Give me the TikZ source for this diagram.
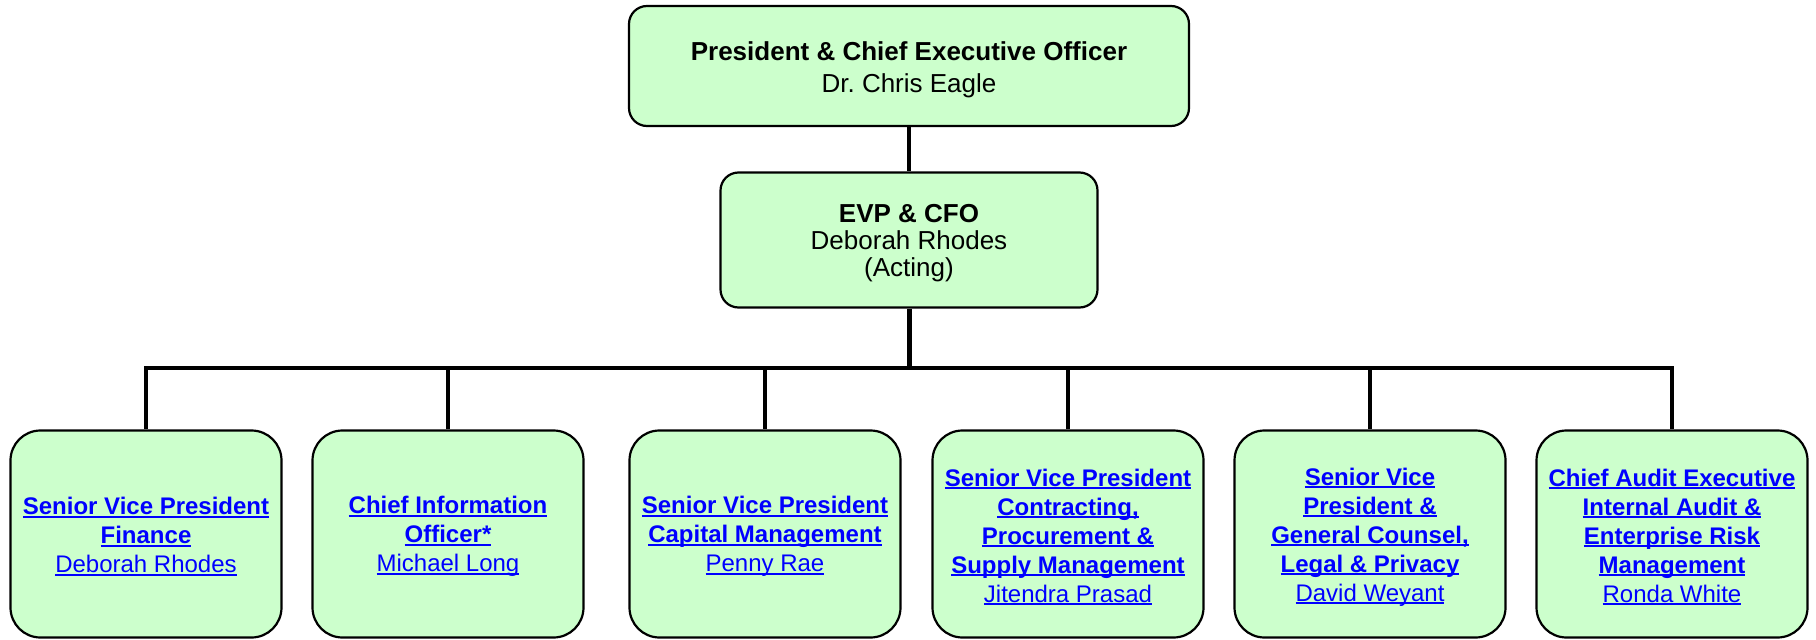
\documentclass[tikz,border=0pt]{standalone}
\usepackage{fontspec}
\setmainfont{Liberation Sans}
\definecolor{boxgreen}{HTML}{CCFFCC}
\definecolor{linkblue}{HTML}{0000FF}
\newcommand\lnk[1]{\setbox0\hbox{#1}\rlap{\rule[-3pt]{\wd0}{1.8pt}}\box0}
\newcommand\topstrut[1]{\rule{0pt}{#1}}
\begin{document}
\begin{tikzpicture}[x=1pt,y=-1pt,
  orgbox/.style={draw=black, line width=2.2pt, fill=boxgreen, rounded corners=#1, inner sep=0pt, align=center},
  orgbox/.default=18pt,
  headbox/.style={orgbox=18pt, font=\fontsize{26}{32}\selectfont},
  cfobox/.style={orgbox=18pt, font=\fontsize{26}{27}\selectfont},
  unitbox/.style={orgbox=30pt, minimum width=271pt, minimum height=207pt, text=linkblue, font=\fontsize{24}{29}\selectfont},
  conn/.style={draw=black, line width=4pt},
  thickconn/.style={draw=black, line width=5pt}]
\useasboundingbox (0,0) rectangle (1816,640);

\node[headbox, minimum width=560pt, minimum height=120pt] (ceo) at (909,66)
  {\topstrut{26pt}\textbf{President \& Chief Executive Officer}\\Dr.\ Chris Eagle};
\node[cfobox, minimum width=377pt, minimum height=135pt] (cfo) at (909,240)
  {\topstrut{23.6pt}\textbf{EVP \& CFO}\\Deborah Rhodes\\(Acting)};

\coordinate (bus) at (909,368);

\node[unitbox] (u1) at (146,534)
  {\topstrut{22.3pt}\lnk{\textbf{Senior Vice President}}\\\lnk{\textbf{Finance}}\\\lnk{Deborah Rhodes}};
\node[unitbox] (u2) at (448,534)
  {\topstrut{22.3pt}\lnk{\textbf{Chief Information}}\\\lnk{\textbf{Officer*}}\\\lnk{Michael Long}};
\node[unitbox] (u3) at (765,534)
  {\topstrut{22.3pt}\lnk{\textbf{Senior Vice President}}\\\lnk{\textbf{Capital Management}}\\\lnk{Penny Rae}};
\node[unitbox] (u4) at (1068,534)
  {\topstrut{23pt}\lnk{\textbf{Senior Vice President}}\\\lnk{\textbf{Contracting,}}\\\lnk{\textbf{Procurement \&}}\\\lnk{\textbf{Supply Management}}\\\lnk{Jitendra Prasad}};
\node[unitbox] (u5) at (1370,534)
  {\topstrut{23pt}\lnk{\textbf{Senior Vice}}\\\lnk{\textbf{President \&}}\\\lnk{\textbf{General Counsel,}}\\\lnk{\textbf{Legal \& Privacy}}\\\lnk{David Weyant}};
\node[unitbox] (u6) at (1672,534)
  {\topstrut{23pt}\lnk{\textbf{Chief Audit Executive}}\\\lnk{\textbf{Internal Audit \&}}\\\lnk{\textbf{Enterprise Risk}}\\\lnk{\textbf{Management}}\\\lnk{Ronda White}};

\draw[conn] (ceo.south) -- (cfo.north);
\draw[thickconn] (cfo.south) -- (bus);
\foreach \u in {u1,u2,u3,u4,u5,u6}
  \draw[conn] (bus) -| (\u.north);
\end{tikzpicture}
\end{document}
